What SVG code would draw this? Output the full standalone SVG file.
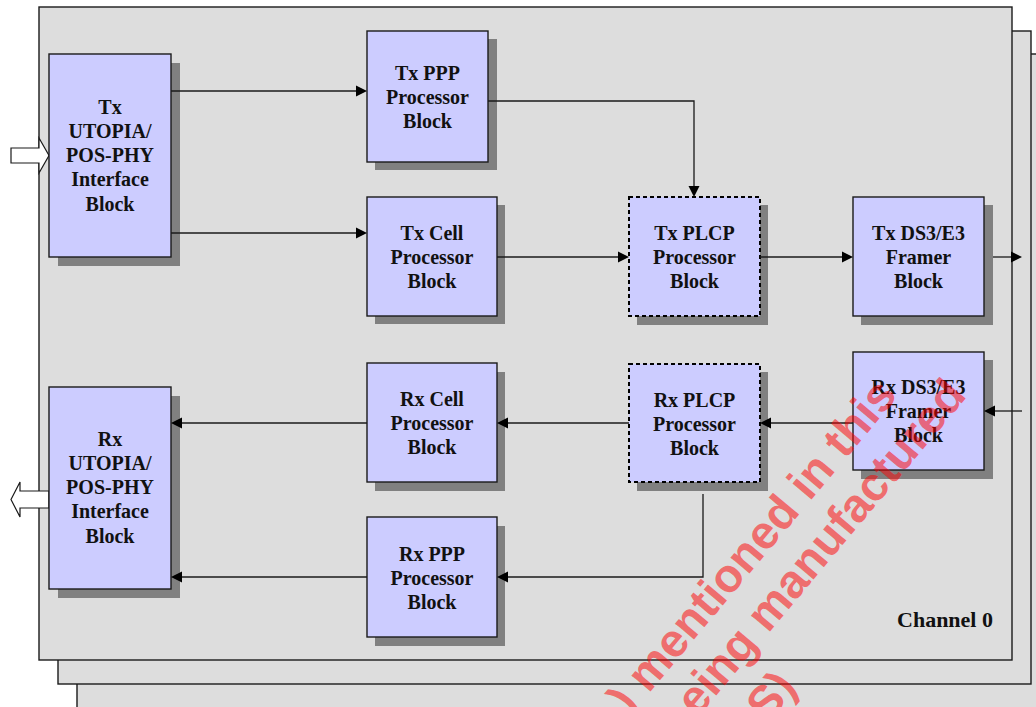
<svg xmlns="http://www.w3.org/2000/svg" xmlns:xlink="http://www.w3.org/1999/xlink" width="1036" height="707" viewBox="0 0 1036 707">
<style>
.frame{fill:#dddddd;stroke:#1a1a1a;stroke-width:1.4}
.shadow{fill:#808080}
.box{fill:#ccccff;stroke:#1a1a1a;stroke-width:1.4}
.dash{fill:#ccccff;stroke:#000;stroke-width:2;stroke-dasharray:4 3}
.lbl{font-family:"Liberation Serif","Times New Roman",serif;font-weight:bold;font-size:20px;fill:#111;text-anchor:middle}
.conn{fill:none;stroke:#1a1a1a;stroke-width:1.3}
.head{fill:#000}
.hollow{fill:#ffffff;stroke:#1a1a1a;stroke-width:1.2}
.wm{font-family:"Liberation Sans",Arial,sans-serif;font-weight:bold;font-size:47px;fill:#ff0000;fill-opacity:0.52}
</style>
<defs>
<path id="ah" d="M0,0 L-11,-5.5 L-11,5.5 Z"/>
</defs>
<rect width="1036" height="707" fill="#ffffff"/>
<g id="frames">
<rect class="frame" x="77" y="54" width="980" height="680"/>
<rect class="frame" x="58" y="31" width="973" height="653"/>
<rect class="frame" x="39" y="7" width="973" height="653"/>
</g>
<g id="io-arrows">
<path class="hollow" d="M11,148 L39,148 L39,138 L49,155.5 L39,173 L39,163 L11,163 Z"/>
<path class="hollow" d="M49,491 L20,491 L20,482 L11,499.5 L20,517 L20,508 L49,508 Z"/>
</g>
<g id="tx-utopia">
<rect class="shadow" x="58" y="63" width="122" height="203"/>
<rect class="box" x="49" y="54" width="122" height="203"/>
<text class="lbl" x="110" y="114">Tx</text>
<text class="lbl" x="110" y="138">UTOPIA/</text>
<text class="lbl" x="110" y="162">POS-PHY</text>
<text class="lbl" x="110" y="186">Interface</text>
<text class="lbl" x="110" y="211">Block</text>
</g>
<g id="rx-utopia">
<rect class="shadow" x="58" y="396" width="122" height="202"/>
<rect class="box" x="49" y="387" width="122" height="202"/>
<text class="lbl" x="110" y="446">Rx</text>
<text class="lbl" x="110" y="470">UTOPIA/</text>
<text class="lbl" x="110" y="494">POS-PHY</text>
<text class="lbl" x="110" y="518">Interface</text>
<text class="lbl" x="110" y="543">Block</text>
</g>
<g id="tx-ppp">
<rect class="shadow" x="375" y="39" width="122" height="131"/>
<rect class="box" x="367" y="31" width="121" height="131"/>
<text class="lbl" x="427.5" y="80">Tx PPP</text>
<text class="lbl" x="427.5" y="104">Processor</text>
<text class="lbl" x="427.5" y="128">Block</text>
</g>
<g id="tx-cell">
<rect class="shadow" x="375" y="205" width="130" height="119"/>
<rect class="box" x="367" y="197" width="130" height="119"/>
<text class="lbl" x="432" y="240">Tx Cell</text>
<text class="lbl" x="432" y="264">Processor</text>
<text class="lbl" x="432" y="288">Block</text>
</g>
<g id="tx-plcp">
<rect class="shadow" x="637" y="205" width="131" height="120"/>
<rect class="dash" x="629" y="197" width="131" height="119"/>
<text class="lbl" x="694.5" y="240">Tx PLCP</text>
<text class="lbl" x="694.5" y="264">Processor</text>
<text class="lbl" x="694.5" y="288">Block</text>
</g>
<g id="tx-ds3">
<rect class="shadow" x="861" y="205" width="132" height="120"/>
<rect class="box" x="853" y="197" width="131" height="119"/>
<text class="lbl" x="918.5" y="240">Tx DS3/E3</text>
<text class="lbl" x="918.5" y="264">Framer</text>
<text class="lbl" x="918.5" y="288">Block</text>
</g>
<g id="rx-cell">
<rect class="shadow" x="375" y="372" width="130" height="119"/>
<rect class="box" x="367" y="363" width="130" height="119"/>
<text class="lbl" x="432" y="406">Rx Cell</text>
<text class="lbl" x="432" y="430">Processor</text>
<text class="lbl" x="432" y="454">Block</text>
</g>
<g id="rx-ppp">
<rect class="shadow" x="375" y="526" width="130" height="120"/>
<rect class="box" x="367" y="517" width="130" height="120"/>
<text class="lbl" x="432" y="561">Rx PPP</text>
<text class="lbl" x="432" y="585">Processor</text>
<text class="lbl" x="432" y="609">Block</text>
</g>
<g id="rx-plcp">
<rect class="shadow" x="637" y="372" width="131" height="119"/>
<rect class="dash" x="629" y="364" width="131" height="118"/>
<text class="lbl" x="694.5" y="407">Rx PLCP</text>
<text class="lbl" x="694.5" y="431">Processor</text>
<text class="lbl" x="694.5" y="455">Block</text>
</g>
<g id="rx-ds3">
<rect class="shadow" x="861" y="360" width="132" height="119"/>
<rect class="box" x="853" y="352" width="131" height="118"/>
<text class="lbl" x="918.5" y="394">Rx DS3/E3</text>
<text class="lbl" x="918.5" y="418">Framer</text>
<text class="lbl" x="918.5" y="442">Block</text>
</g>
<g id="connectors">
<line class="conn" x1="171" y1="91" x2="360" y2="91"/>
<use class="head" xlink:href="#ah" href="#ah" transform="translate(367 91)"/>
<line class="conn" x1="171" y1="233" x2="360" y2="233"/>
<use class="head" xlink:href="#ah" href="#ah" transform="translate(367 233)"/>
<polyline class="conn" points="488,101 694,101 694,190"/>
<use class="head" xlink:href="#ah" href="#ah" transform="translate(694 197) rotate(90)"/>
<line class="conn" x1="497" y1="257" x2="622" y2="257"/>
<use class="head" xlink:href="#ah" href="#ah" transform="translate(629 257)"/>
<line class="conn" x1="760" y1="257" x2="846" y2="257"/>
<use class="head" xlink:href="#ah" href="#ah" transform="translate(853 257)"/>
<line class="conn" x1="993" y1="257" x2="1015" y2="257"/>
<use class="head" xlink:href="#ah" href="#ah" transform="translate(1022 257)"/>
<line class="conn" x1="1022" y1="411" x2="991" y2="411"/>
<use class="head" xlink:href="#ah" href="#ah" transform="translate(984 411) rotate(180)"/>
<line class="conn" x1="853" y1="423" x2="767" y2="423"/>
<use class="head" xlink:href="#ah" href="#ah" transform="translate(760 423) rotate(180)"/>
<line class="conn" x1="629" y1="423" x2="504" y2="423"/>
<use class="head" xlink:href="#ah" href="#ah" transform="translate(497 423) rotate(180)"/>
<line class="conn" x1="367" y1="423" x2="178" y2="423"/>
<use class="head" xlink:href="#ah" href="#ah" transform="translate(171 423) rotate(180)"/>
<polyline class="conn" points="703,494 703,577 504,577"/>
<use class="head" xlink:href="#ah" href="#ah" transform="translate(497 577) rotate(180)"/>
<line class="conn" x1="367" y1="577" x2="178" y2="577"/>
<use class="head" xlink:href="#ah" href="#ah" transform="translate(171 577) rotate(180)"/>
</g>
<text id="channel-label" x="993" y="627" style="font-family:'Liberation Serif','Times New Roman',serif;font-weight:bold;font-size:22px;fill:#111;text-anchor:end">Channel 0</text>
<g id="watermark">
<text class="wm" x="630" y="716" transform="rotate(-50 630 716)">) mentioned in this</text>
<text class="wm" x="679" y="740" transform="rotate(-50 679 740)">being manufactured</text>
<text class="wm" x="768" y="724" transform="rotate(-50 768 724)">S)</text>
</g>
</svg>
